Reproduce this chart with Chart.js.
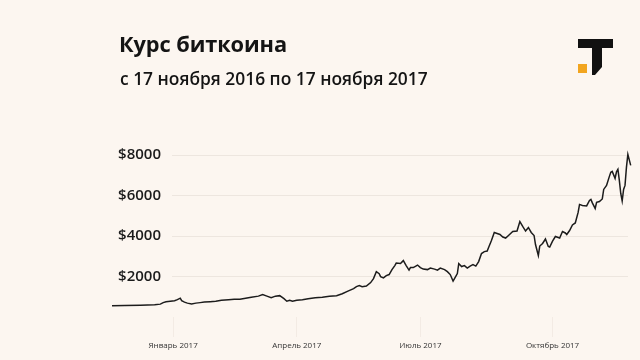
<!DOCTYPE html>
<html lang="ru">
<head>
<meta charset="utf-8">
<script src="https://cdn.jsdelivr.net/npm/chart.js@4"></script>
<style>
  html, body { margin: 0; padding: 0; background: #fcf6f0; }
  #wrap { position: relative; width: 640px; height: 360px; overflow: hidden; background: #fcf6f0; }
  canvas { position: absolute; left: 0; top: 0; }
  .title { position: absolute; left: 119px; top: 33px; font-family: "Open Sans", sans-serif; font-weight: 700; font-size: 21.8px; line-height: 21.8px; color: #141414; white-space: nowrap; letter-spacing: -0.1px; }
  .sub { position: absolute; left: 120px; top: 70px; font-family: "Open Sans", sans-serif; font-weight: 600; font-size: 17.4px; line-height: 17.4px; color: #141414; white-space: nowrap; }
  svg.logo { position: absolute; left: 0; top: 0; }
</style>
</head>
<body>
<div id="wrap">
  <canvas id="c" width="640" height="360"></canvas>
  <div class="title">Курс биткоина</div>
  <div class="sub">с 17 ноября 2016 по 17 ноября 2017</div>
  <svg class="logo" width="640" height="100" viewBox="0 0 640 100">
    <rect x="578" y="39" width="35" height="9" fill="#111"/>
    <polygon points="592,48 602,48 602,67 595,75 592,75" fill="#111"/>
    <rect x="578" y="64" width="9" height="9" fill="#f2a51f"/>
  </svg>
</div>
<script>
// days since 17 Nov 2016
const days = [0,9,20,30,34,36,38,41,44,46,48,49,51,53,56,59,62,65,69,73,77,82,86,90,94,98,103,106,109,112,115,118,121,123,125,127,130,134,138,143,148,153,158,162,166,170,172,174,176,179,182,184,186,188,189,191,193,195,197,199,200,203,205,207,209,210,212,215,217,219,222,224,227,229,231,234,236,238,240,241,243,244,246,248,250,252,254,256,258,260,262,264,265,267,269,271,273,275,277,279,282,285,287,289,291,293,295,297,298,300,301,303,305,307,308,310,312,315,317,319,320,322,324,326,328,329,331,334,336,337,338,340,341,343,345,346,348,350,351,352,354,355,356,357,358,359,360,361,362,363,365];
const prices = [560,570,585,610,635,710,755,780,805,855,930,805,735,685,645,685,710,735,755,780,830,855,880,880,930,980,1030,1105,1030,955,1030,1055,905,780,830,780,830,855,905,955,980,1030,1055,1150,1275,1400,1500,1550,1500,1525,1700,1895,2240,2140,1995,1930,2045,2095,2340,2540,2665,2640,2785,2540,2315,2440,2440,2565,2440,2365,2340,2415,2365,2315,2415,2340,2240,2095,1770,1895,2145,2640,2490,2540,2415,2515,2590,2515,2735,3135,3230,3255,3430,3775,4175,4125,4075,3950,3900,4025,4220,4245,4715,4470,4245,4420,4175,4025,3580,3035,3505,3630,3850,3480,3455,3750,3975,3900,4220,4150,4075,4270,4545,4645,5165,5560,5510,5485,5755,5805,5635,5360,5660,5705,5830,6300,6500,6945,7145,7190,6845,7170,7290,6750,6100,5730,6300,6500,7390,8030,7490];
const yTicks = [2000, 4000, 6000, 8000];
const xTickDays = [43, 130, 217, 310];
const xTickLabels = ['Январь 2017', 'Апрель 2017', 'Июль 2017', 'Октябрь 2017'];

new Chart(document.getElementById('c'), {
  type: 'line',
  data: {
    datasets: [{
      data: days.map((d, i) => ({ x: d, y: prices[i] })),
      borderColor: '#1c1c1c',
      borderWidth: 1.5,
      pointRadius: 0,
      tension: 0,
      fill: false,
      clip: false
    }]
  },
  options: {
    responsive: false,
    animation: false,
    devicePixelRatio: 1,
    layout: { padding: { top: 155, right: 12, left: 0, bottom: 0 } },
    plugins: { legend: { display: false }, tooltip: { enabled: false } },
    scales: {
      x: {
        type: 'linear',
        bounds: 'data',
        afterDataLimits: s => { s.min = 42.2; s.max = 363.1; },
        afterBuildTicks: s => { s.ticks = xTickDays.map(v => ({ value: v })); },
        afterFit: s => { s.height = 43; },
        border: { display: false },
        grid: { drawOnChartArea: false, drawTicks: true, tickLength: 20, color: '#f3ebe4' },
        ticks: {
          padding: 4,
          maxRotation: 0,
          autoSkip: false,
          color: '#333',
          font: { family: 'Open Sans', size: 8 },
          callback: (v) => { const i = xTickDays.indexOf(v); return i >= 0 ? xTickLabels[i] : ''; }
        }
      },
      y: {
        min: 0,
        max: 8000,
        afterBuildTicks: s => { s.ticks = yTicks.map(v => ({ value: v })); },
        afterFit: s => { s.width = 172; },
        border: { display: false },
        grid: { drawTicks: false, color: '#ede6df', lineWidth: 1 },
        ticks: {
          padding: 11,
          color: '#1b1b1b',
          font: { family: 'Open Sans', size: 15, weight: '600' },
          callback: v => '$' + v
        }
      }
    }
  }
});
</script>
</body>
</html>
